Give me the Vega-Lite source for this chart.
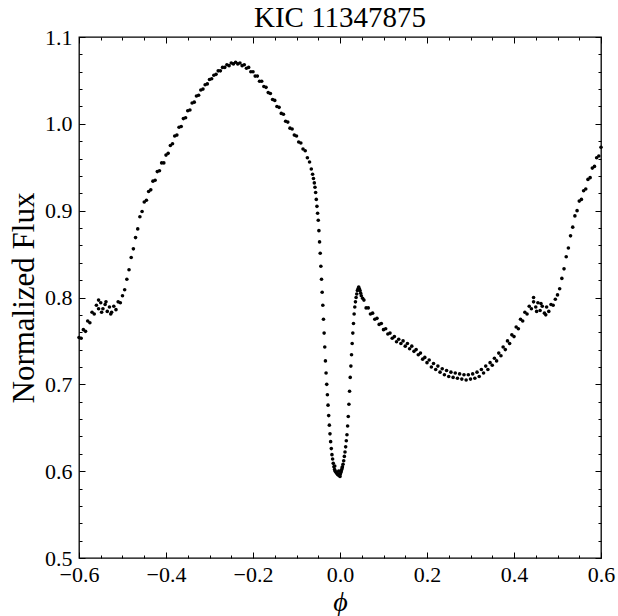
{
  "$schema": "https://vega.github.io/schema/vega-lite/v6.json",
  "autosize": "none",
  "width": 522,
  "height": 521,
  "padding": {"left": 79, "top": 37, "right": 17, "bottom": 58},
  "background": "white",
  "title": {"text": "KIC 11347875", "font": "Liberation Serif", "fontSize": 29, "fontWeight": "normal", "color": "black", "anchor": "middle", "offset": -7},
  "config": {
    "font": "Liberation Serif",
    "view": {"stroke": "black", "strokeWidth": 1.3},
    "axis": {"domain": false, "grid": false, "tickColor": "black", "tickWidth": 1, "labelColor": "black", "titleColor": "black", "labelFont": "Liberation Serif", "titleFont": "Liberation Serif", "titleFontWeight": "normal"}
  },
  "data": {"values": [
    {"phase": -0.600, "flux": 0.754}, {"phase": -0.595, "flux": 0.753}, {"phase": -0.590, "flux": 0.763}, {"phase": -0.585, "flux": 0.761},
    {"phase": -0.580, "flux": 0.773}, {"phase": -0.575, "flux": 0.771}, {"phase": -0.570, "flux": 0.783}, {"phase": -0.565, "flux": 0.781},
    {"phase": -0.560, "flux": 0.791}, {"phase": -0.555, "flux": 0.787}, {"phase": -0.550, "flux": 0.794}, {"phase": -0.545, "flux": 0.787},
    {"phase": -0.540, "flux": 0.792}, {"phase": -0.535, "flux": 0.784}, {"phase": -0.530, "flux": 0.789}, {"phase": -0.525, "flux": 0.783},
    {"phase": -0.520, "flux": 0.790}, {"phase": -0.515, "flux": 0.786}, {"phase": -0.510, "flux": 0.795}, {"phase": -0.505, "flux": 0.794},
    {"phase": -0.555, "flux": 0.797}, {"phase": -0.548, "flux": 0.783}, {"phase": -0.538, "flux": 0.795}, {"phase": -0.527, "flux": 0.781},
    {"phase": -0.500, "flux": 0.802}, {"phase": -0.495, "flux": 0.809}, {"phase": -0.490, "flux": 0.821}, {"phase": -0.485, "flux": 0.832},
    {"phase": -0.480, "flux": 0.846}, {"phase": -0.475, "flux": 0.856}, {"phase": -0.470, "flux": 0.869}, {"phase": -0.465, "flux": 0.879},
    {"phase": -0.460, "flux": 0.893}, {"phase": -0.455, "flux": 0.899}, {"phase": -0.450, "flux": 0.910}, {"phase": -0.445, "flux": 0.912},
    {"phase": -0.440, "flux": 0.922}, {"phase": -0.435, "flux": 0.924}, {"phase": -0.430, "flux": 0.934}, {"phase": -0.425, "flux": 0.935},
    {"phase": -0.420, "flux": 0.945}, {"phase": -0.415, "flux": 0.946}, {"phase": -0.410, "flux": 0.955}, {"phase": -0.405, "flux": 0.955},
    {"phase": -0.400, "flux": 0.964}, {"phase": -0.395, "flux": 0.966}, {"phase": -0.390, "flux": 0.975}, {"phase": -0.385, "flux": 0.977},
    {"phase": -0.380, "flux": 0.986}, {"phase": -0.375, "flux": 0.987}, {"phase": -0.370, "flux": 0.996}, {"phase": -0.365, "flux": 0.997},
    {"phase": -0.360, "flux": 1.006}, {"phase": -0.355, "flux": 1.007}, {"phase": -0.350, "flux": 1.015}, {"phase": -0.345, "flux": 1.016},
    {"phase": -0.340, "flux": 1.024}, {"phase": -0.335, "flux": 1.025}, {"phase": -0.330, "flux": 1.032}, {"phase": -0.325, "flux": 1.033},
    {"phase": -0.320, "flux": 1.039}, {"phase": -0.315, "flux": 1.040}, {"phase": -0.310, "flux": 1.045}, {"phase": -0.305, "flux": 1.046},
    {"phase": -0.300, "flux": 1.051}, {"phase": -0.295, "flux": 1.052}, {"phase": -0.290, "flux": 1.056}, {"phase": -0.285, "flux": 1.057},
    {"phase": -0.280, "flux": 1.061}, {"phase": -0.275, "flux": 1.061}, {"phase": -0.270, "flux": 1.065}, {"phase": -0.265, "flux": 1.065},
    {"phase": -0.260, "flux": 1.068}, {"phase": -0.255, "flux": 1.067}, {"phase": -0.250, "flux": 1.070}, {"phase": -0.245, "flux": 1.069},
    {"phase": -0.240, "flux": 1.071}, {"phase": -0.235, "flux": 1.069}, {"phase": -0.230, "flux": 1.070}, {"phase": -0.225, "flux": 1.067},
    {"phase": -0.220, "flux": 1.068}, {"phase": -0.215, "flux": 1.064}, {"phase": -0.210, "flux": 1.065}, {"phase": -0.205, "flux": 1.060},
    {"phase": -0.200, "flux": 1.060}, {"phase": -0.195, "flux": 1.055}, {"phase": -0.190, "flux": 1.055}, {"phase": -0.185, "flux": 1.049},
    {"phase": -0.180, "flux": 1.049}, {"phase": -0.175, "flux": 1.043}, {"phase": -0.170, "flux": 1.042}, {"phase": -0.165, "flux": 1.036},
    {"phase": -0.160, "flux": 1.035}, {"phase": -0.155, "flux": 1.028}, {"phase": -0.150, "flux": 1.027}, {"phase": -0.145, "flux": 1.020},
    {"phase": -0.140, "flux": 1.019}, {"phase": -0.135, "flux": 1.012}, {"phase": -0.130, "flux": 1.011}, {"phase": -0.125, "flux": 1.003},
    {"phase": -0.120, "flux": 1.002}, {"phase": -0.115, "flux": 0.995}, {"phase": -0.110, "flux": 0.994}, {"phase": -0.105, "flux": 0.987},
    {"phase": -0.100, "flux": 0.986}, {"phase": -0.095, "flux": 0.979}, {"phase": -0.090, "flux": 0.978}, {"phase": -0.085, "flux": 0.971},
    {"phase": -0.080, "flux": 0.969}, {"phase": -0.075, "flux": 0.961}, {"phase": -0.070, "flux": 0.956}, {"phase": -0.066, "flux": 0.948},
    {"phase": -0.063, "flux": 0.942}, {"phase": -0.061, "flux": 0.937}, {"phase": -0.059, "flux": 0.932},
    {"phase": -0.0575, "flux": 0.927}, {"phase": -0.056, "flux": 0.921}, {"phase": -0.0545, "flux": 0.913}, {"phase": -0.053, "flux": 0.905},
    {"phase": -0.0515, "flux": 0.897}, {"phase": -0.050, "flux": 0.889}, {"phase": -0.0485, "flux": 0.877}, {"phase": -0.047, "flux": 0.864},
    {"phase": -0.0455, "flux": 0.851}, {"phase": -0.044, "flux": 0.836}, {"phase": -0.0425, "flux": 0.821}, {"phase": -0.041, "flux": 0.806},
    {"phase": -0.0395, "flux": 0.791}, {"phase": -0.038, "flux": 0.775}, {"phase": -0.0365, "flux": 0.759}, {"phase": -0.035, "flux": 0.743},
    {"phase": -0.0335, "flux": 0.727}, {"phase": -0.032, "flux": 0.713}, {"phase": -0.0305, "flux": 0.700}, {"phase": -0.029, "flux": 0.688},
    {"phase": -0.0275, "flux": 0.676}, {"phase": -0.026, "flux": 0.664}, {"phase": -0.0245, "flux": 0.653}, {"phase": -0.023, "flux": 0.643},
    {"phase": -0.0215, "flux": 0.634}, {"phase": -0.020, "flux": 0.626}, {"phase": -0.0185, "flux": 0.619}, {"phase": -0.017, "flux": 0.614},
    {"phase": -0.0155, "flux": 0.609}, {"phase": -0.014, "flux": 0.605}, {"phase": -0.0125, "flux": 0.602}, {"phase": -0.011, "flux": 0.600},
    {"phase": -0.0095, "flux": 0.599}, {"phase": -0.008, "flux": 0.598}, {"phase": -0.0065, "flux": 0.597}, {"phase": -0.005, "flux": 0.596},
    {"phase": -0.0035, "flux": 0.596}, {"phase": -0.002, "flux": 0.595}, {"phase": -0.0005, "flux": 0.596}, {"phase": 0.001, "flux": 0.597},
    {"phase": -0.003, "flux": 0.600}, {"phase": 0.000, "flux": 0.594}, {"phase": 0.002, "flux": 0.600}, {"phase": -0.012, "flux": 0.606}, {"phase": 0.005, "flux": 0.604},
    {"phase": 0.0025, "flux": 0.599}, {"phase": 0.004, "flux": 0.602}, {"phase": 0.0055, "flux": 0.605}, {"phase": 0.007, "flux": 0.608},
    {"phase": 0.0085, "flux": 0.612}, {"phase": 0.010, "flux": 0.617}, {"phase": 0.0115, "flux": 0.622}, {"phase": 0.013, "flux": 0.628},
    {"phase": 0.0145, "flux": 0.635}, {"phase": 0.016, "flux": 0.642}, {"phase": 0.0175, "flux": 0.652}, {"phase": 0.019, "flux": 0.663},
    {"phase": 0.0205, "flux": 0.677}, {"phase": 0.022, "flux": 0.692}, {"phase": 0.0235, "flux": 0.708}, {"phase": 0.025, "flux": 0.721},
    {"phase": 0.0265, "flux": 0.734}, {"phase": 0.028, "flux": 0.747}, {"phase": 0.0295, "flux": 0.759}, {"phase": 0.031, "flux": 0.770},
    {"phase": 0.0325, "flux": 0.781}, {"phase": 0.034, "flux": 0.789}, {"phase": 0.0355, "flux": 0.795}, {"phase": 0.037, "flux": 0.800},
    {"phase": 0.0385, "flux": 0.804}, {"phase": 0.040, "flux": 0.808}, {"phase": 0.0415, "flux": 0.810}, {"phase": 0.043, "flux": 0.812},
    {"phase": 0.0445, "flux": 0.810}, {"phase": 0.046, "flux": 0.808}, {"phase": 0.0475, "flux": 0.805}, {"phase": 0.049, "flux": 0.802},
    {"phase": 0.052, "flux": 0.799}, {"phase": 0.055, "flux": 0.797}, {"phase": 0.060, "flux": 0.788}, {"phase": 0.065, "flux": 0.788},
    {"phase": 0.070, "flux": 0.781}, {"phase": 0.075, "flux": 0.782}, {"phase": 0.080, "flux": 0.775}, {"phase": 0.085, "flux": 0.776},
    {"phase": 0.090, "flux": 0.769}, {"phase": 0.095, "flux": 0.770}, {"phase": 0.100, "flux": 0.763}, {"phase": 0.105, "flux": 0.764},
    {"phase": 0.110, "flux": 0.758}, {"phase": 0.115, "flux": 0.759}, {"phase": 0.120, "flux": 0.753}, {"phase": 0.125, "flux": 0.755},
    {"phase": 0.130, "flux": 0.749}, {"phase": 0.135, "flux": 0.752}, {"phase": 0.140, "flux": 0.747}, {"phase": 0.145, "flux": 0.750},
    {"phase": 0.150, "flux": 0.744}, {"phase": 0.155, "flux": 0.747}, {"phase": 0.160, "flux": 0.741}, {"phase": 0.165, "flux": 0.744},
    {"phase": 0.170, "flux": 0.738}, {"phase": 0.175, "flux": 0.740}, {"phase": 0.180, "flux": 0.734}, {"phase": 0.185, "flux": 0.736},
    {"phase": 0.190, "flux": 0.729}, {"phase": 0.195, "flux": 0.731}, {"phase": 0.200, "flux": 0.725}, {"phase": 0.205, "flux": 0.728},
    {"phase": 0.210, "flux": 0.720}, {"phase": 0.215, "flux": 0.724}, {"phase": 0.220, "flux": 0.717}, {"phase": 0.225, "flux": 0.721},
    {"phase": 0.230, "flux": 0.714}, {"phase": 0.235, "flux": 0.718}, {"phase": 0.240, "flux": 0.711}, {"phase": 0.245, "flux": 0.716},
    {"phase": 0.250, "flux": 0.709}, {"phase": 0.255, "flux": 0.714}, {"phase": 0.260, "flux": 0.708}, {"phase": 0.265, "flux": 0.713},
    {"phase": 0.270, "flux": 0.707}, {"phase": 0.275, "flux": 0.712}, {"phase": 0.280, "flux": 0.706}, {"phase": 0.285, "flux": 0.711},
    {"phase": 0.290, "flux": 0.705}, {"phase": 0.295, "flux": 0.711}, {"phase": 0.300, "flux": 0.706}, {"phase": 0.305, "flux": 0.712},
    {"phase": 0.310, "flux": 0.707}, {"phase": 0.315, "flux": 0.714}, {"phase": 0.320, "flux": 0.709}, {"phase": 0.325, "flux": 0.717},
    {"phase": 0.330, "flux": 0.713}, {"phase": 0.335, "flux": 0.721}, {"phase": 0.340, "flux": 0.717}, {"phase": 0.345, "flux": 0.725},
    {"phase": 0.350, "flux": 0.722}, {"phase": 0.355, "flux": 0.730}, {"phase": 0.360, "flux": 0.727}, {"phase": 0.365, "flux": 0.736},
    {"phase": 0.370, "flux": 0.733}, {"phase": 0.375, "flux": 0.743}, {"phase": 0.380, "flux": 0.740}, {"phase": 0.385, "flux": 0.750},
    {"phase": 0.390, "flux": 0.747}, {"phase": 0.395, "flux": 0.757}, {"phase": 0.400, "flux": 0.755}, {"phase": 0.405, "flux": 0.766},
    {"phase": 0.410, "flux": 0.764}, {"phase": 0.415, "flux": 0.775}, {"phase": 0.420, "flux": 0.773}, {"phase": 0.425, "flux": 0.783},
    {"phase": 0.430, "flux": 0.781}, {"phase": 0.435, "flux": 0.790}, {"phase": 0.440, "flux": 0.787}, {"phase": 0.445, "flux": 0.795},
    {"phase": 0.450, "flux": 0.789}, {"phase": 0.455, "flux": 0.794}, {"phase": 0.460, "flux": 0.785}, {"phase": 0.465, "flux": 0.790},
    {"phase": 0.470, "flux": 0.782}, {"phase": 0.475, "flux": 0.789}, {"phase": 0.480, "flux": 0.784}, {"phase": 0.485, "flux": 0.792},
    {"phase": 0.445, "flux": 0.800}, {"phase": 0.452, "flux": 0.784}, {"phase": 0.462, "flux": 0.793}, {"phase": 0.473, "flux": 0.780},
    {"phase": 0.490, "flux": 0.791}, {"phase": 0.495, "flux": 0.798}, {"phase": 0.500, "flux": 0.803}, {"phase": 0.505, "flux": 0.810},
    {"phase": 0.510, "flux": 0.822}, {"phase": 0.515, "flux": 0.833}, {"phase": 0.520, "flux": 0.847}, {"phase": 0.525, "flux": 0.857},
    {"phase": 0.530, "flux": 0.871}, {"phase": 0.535, "flux": 0.881}, {"phase": 0.540, "flux": 0.894}, {"phase": 0.545, "flux": 0.900},
    {"phase": 0.550, "flux": 0.911}, {"phase": 0.555, "flux": 0.913}, {"phase": 0.560, "flux": 0.923}, {"phase": 0.565, "flux": 0.925},
    {"phase": 0.570, "flux": 0.936}, {"phase": 0.575, "flux": 0.938}, {"phase": 0.580, "flux": 0.949}, {"phase": 0.585, "flux": 0.951},
    {"phase": 0.590, "flux": 0.961}, {"phase": 0.595, "flux": 0.963}, {"phase": 0.600, "flux": 0.973}
  ]},
  "encoding": {
    "x": {"field": "phase", "type": "quantitative", "scale": {"domain": [-0.6, 0.6], "nice": false, "zero": false}},
    "y": {"field": "flux", "type": "quantitative", "scale": {"domain": [0.5, 1.1], "nice": false, "zero": false}}
  },
  "resolve": {"axis": {"x": "independent", "y": "independent"}},
  "layer": [
    {
      "mark": {"type": "circle", "size": 13, "color": "black", "opacity": 1},
      "encoding": {
        "x": {"field": "phase", "type": "quantitative", "axis": {"orient": "bottom", "values": [-0.6, -0.4, -0.2, 0.0, 0.2, 0.4, 0.6], "format": ".1f", "tickSize": -6, "labelPadding": 12, "labelFontSize": 22, "labelFlush": false, "title": "ϕ", "titleFontSize": 28, "titleFontStyle": "italic", "titlePadding": 3}},
        "y": {"field": "flux", "type": "quantitative", "axis": {"orient": "left", "values": [0.5, 0.6, 0.7, 0.8, 0.9, 1.0, 1.1], "format": ".1f", "tickSize": -6, "labelPadding": 13, "labelFontSize": 22, "labelFlush": false, "title": "Normalized Flux", "titleFontSize": 31, "titlePadding": 4}}
      }
    },
    {
      "mark": {"type": "circle", "opacity": 0},
      "encoding": {
        "x": {"field": "phase", "type": "quantitative", "axis": {"orient": "bottom", "values": [-0.55, -0.5, -0.45, -0.35, -0.3, -0.25, -0.15, -0.1, -0.05, 0.05, 0.1, 0.15, 0.25, 0.3, 0.35, 0.45, 0.5, 0.55], "tickSize": -3, "labels": false, "title": null}},
        "y": {"field": "flux", "type": "quantitative", "axis": {"orient": "left", "values": [0.52, 0.54, 0.56, 0.58, 0.62, 0.64, 0.66, 0.68, 0.72, 0.74, 0.76, 0.78, 0.82, 0.84, 0.86, 0.88, 0.92, 0.94, 0.96, 0.98, 1.02, 1.04, 1.06, 1.08], "tickSize": -3, "labels": false, "title": null}}
      }
    },
    {
      "mark": {"type": "circle", "opacity": 0},
      "encoding": {
        "x": {"field": "phase", "type": "quantitative", "axis": {"orient": "top", "values": [-0.6, -0.4, -0.2, 0.0, 0.2, 0.4, 0.6], "tickSize": -6, "labels": false, "title": null}},
        "y": {"field": "flux", "type": "quantitative", "axis": {"orient": "right", "values": [0.5, 0.6, 0.7, 0.8, 0.9, 1.0, 1.1], "tickSize": -6, "labels": false, "title": null}}
      }
    },
    {
      "mark": {"type": "circle", "opacity": 0},
      "encoding": {
        "x": {"field": "phase", "type": "quantitative", "axis": {"orient": "top", "values": [-0.55, -0.5, -0.45, -0.35, -0.3, -0.25, -0.15, -0.1, -0.05, 0.05, 0.1, 0.15, 0.25, 0.3, 0.35, 0.45, 0.5, 0.55], "tickSize": -3, "labels": false, "title": null}},
        "y": {"field": "flux", "type": "quantitative", "axis": {"orient": "right", "values": [0.52, 0.54, 0.56, 0.58, 0.62, 0.64, 0.66, 0.68, 0.72, 0.74, 0.76, 0.78, 0.82, 0.84, 0.86, 0.88, 0.92, 0.94, 0.96, 0.98, 1.02, 1.04, 1.06, 1.08], "tickSize": -3, "labels": false, "title": null}}
      }
    }
  ]
}
